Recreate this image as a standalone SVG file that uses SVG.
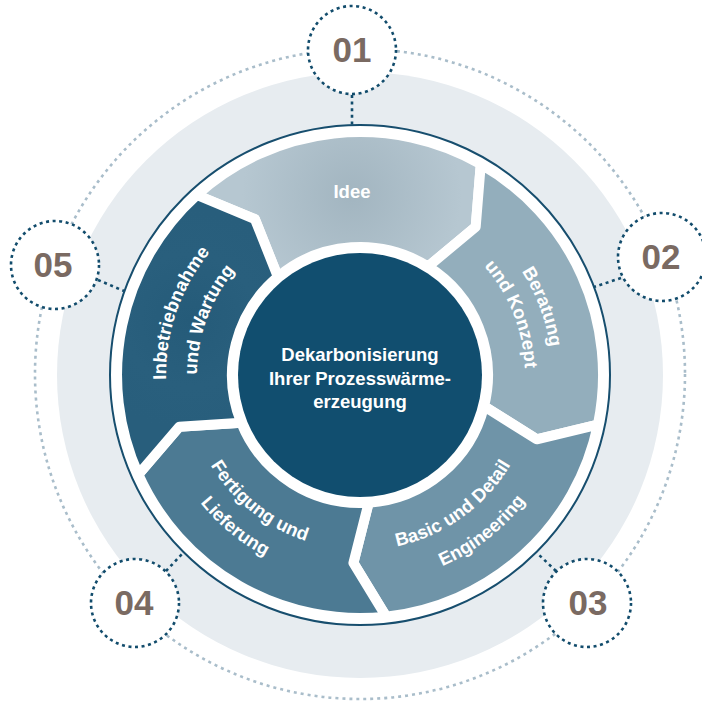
<svg xmlns="http://www.w3.org/2000/svg" width="702" height="702" viewBox="0 0 702 702">
<defs>
<style>
.ring{fill:#fff;stroke:#124c6c;stroke-width:2.6;stroke-dasharray:3 3.6}
.num{font-family:"Liberation Sans",Arial,sans-serif;font-weight:bold;font-size:35px;fill:#7a6a62;text-anchor:middle}
.lbl{font-family:"Liberation Sans",Arial,sans-serif;font-weight:bold;font-size:18.5px;fill:#ffffff;text-anchor:middle}
.seg{stroke:#ffffff;stroke-width:10;stroke-linejoin:round}
.conn{stroke:#124c6c;stroke-width:2.6;stroke-dasharray:3 3.6;fill:none}
</style>
<radialGradient id="gIdee" gradientUnits="userSpaceOnUse" cx="352" cy="195" r="110">
<stop offset="0" stop-color="#a2b5c0"/>
<stop offset="1" stop-color="#b6c7d1"/>
</radialGradient>
<radialGradient id="gInb" gradientUnits="userSpaceOnUse" cx="190" cy="320" r="110">
<stop offset="0" stop-color="#255b79"/>
<stop offset="0.6" stop-color="#295f7d"/>
<stop offset="1" stop-color="#285e7c"/>
</radialGradient>
<path id="pBer1" d="M391.7 185.6 A192 192 0 0 1 508.1 497.1"/>
<path id="pBer2" d="M383.5 211.7 A165 165 0 0 1 489.7 477.0"/>
<path id="pInb1" d="M213.6 502.3 A194 194 0 0 1 323.0 184.6"/>
<path id="pInb2" d="M235.1 479.8 A163 163 0 0 1 331.7 214.5"/>
<path id="pFer1" d="M187.4 349.2 A174.5 174.5 0 0 0 424.0 537.4"/>
<path id="pFer2" d="M158.3 341.3 A204.5 204.5 0 0 0 431.6 566.6"/>
<path id="pBas1" d="M287.8 534.9 A175.5 175.5 0 0 0 534.6 357.6"/>
<path id="pBas2" d="M282.1 567.9 A208 208 0 0 0 566.0 346.0"/>
</defs>
<rect x="0" y="0" width="702" height="702" fill="#ffffff"/>
<g id="background">
<circle cx="360" cy="375" r="303" fill="#e7ecf0"/>
<circle cx="360" cy="374" r="325" fill="none" stroke="#a9bdca" stroke-width="2.6" stroke-dasharray="3 4"/>
<circle cx="360" cy="375" r="250" fill="#ffffff" stroke="#174e6e" stroke-width="2"/>
</g>
<g id="seg-idee">
<path class="seg" fill="url(#gIdee)" d="M196.8 195.0 A243 243 0 0 1 480.8 164.1 L475.7 226.9 L428.0 266.6 A128 128 0 0 0 277.9 276.8 L254.9 219.1 Z"/>
<text class="lbl" x="352" y="198" font-size="19">Idee</text>
</g>
<g id="seg-beratung">
<path class="seg" fill="#93aebc" d="M480.8 164.1 A243 243 0 0 1 597.9 424.7 L536.7 439.3 L484.1 406.2 A128 128 0 0 0 428.0 266.6 L475.7 226.9 Z"/>
<text class="lbl"><textPath href="#pBer1" startOffset="50%">Beratung</textPath></text>
<text class="lbl"><textPath href="#pBer2" startOffset="50%">und Konzept</textPath></text>
</g>
<g id="seg-basic">
<path class="seg" fill="#6f94a8" d="M597.9 424.7 A243 243 0 0 1 386.2 616.6 L353.4 562.9 L368.7 502.7 A128 128 0 0 0 484.1 406.2 L536.7 439.3 Z"/>
<text class="lbl"><textPath href="#pBas1" startOffset="50%">Basic und Detail</textPath></text>
<text class="lbl"><textPath href="#pBas2" startOffset="50%">Engineering</textPath></text>
</g>
<g id="seg-fertigung">
<path class="seg" fill="#4c7a93" d="M386.2 616.6 A243 243 0 0 1 138.4 474.6 L179.3 426.8 L241.2 422.7 A128 128 0 0 0 368.7 502.7 L353.4 562.9 Z"/>
<text class="lbl"><textPath href="#pFer1" startOffset="50%">Fertigung und</textPath></text>
<text class="lbl"><textPath href="#pFer2" startOffset="50%">Lieferung</textPath></text>
</g>
<g id="seg-inbetriebnahme">
<path class="seg" fill="url(#gInb)" d="M138.4 474.6 A243 243 0 0 1 196.8 195.0 L254.9 219.1 L277.9 276.8 A128 128 0 0 0 241.2 422.7 L179.3 426.8 Z"/>
<text class="lbl"><textPath href="#pInb1" startOffset="50%">Inbetriebnahme</textPath></text>
<text class="lbl"><textPath href="#pInb2" startOffset="50%">und Wartung</textPath></text>
</g>
<g id="center">
<circle cx="360" cy="375" r="122" fill="#114e6f"/>
<text class="lbl" x="360" y="361" font-size="18.5">Dekarbonisierung</text>
<text class="lbl" x="360" y="385" font-size="18.5">Ihrer Prozesswärme-</text>
<text class="lbl" x="360" y="408" font-size="18.5">erzeugung</text>
</g>
<g id="connectors">
<line class="conn" x1="352" y1="95" x2="352" y2="125"/>
<line class="conn" x1="621" y1="278" x2="594" y2="287"/>
<line class="conn" x1="556" y1="571" x2="537" y2="553"/>
<line class="conn" x1="166" y1="571" x2="183" y2="553"/>
<line class="conn" x1="98" y1="280" x2="124" y2="291"/>
</g>
<g id="step-01">
<circle class="ring" cx="352" cy="50" r="44"/>
<text class="num" x="352" y="62">01</text>
</g>
<g id="step-02">
<circle class="ring" cx="662" cy="257" r="44"/>
<text class="num" x="661" y="269">02</text>
</g>
<g id="step-03">
<circle class="ring" cx="587" cy="603" r="44"/>
<text class="num" x="588" y="615">03</text>
</g>
<g id="step-04">
<circle class="ring" cx="135" cy="603" r="44"/>
<text class="num" x="134" y="615">04</text>
</g>
<g id="step-05">
<circle class="ring" cx="55" cy="265" r="44"/>
<text class="num" x="53" y="277">05</text>
</g>
</svg>
